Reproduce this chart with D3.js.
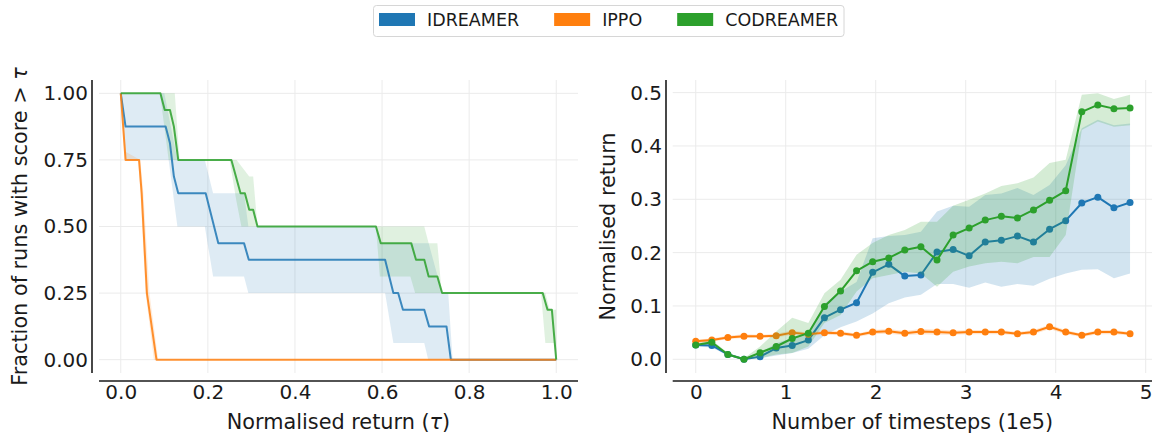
<!DOCTYPE html>
<html><head><meta charset="utf-8">
<script src="https://cdn.jsdelivr.net/npm/d3@7"></script>
<style>
body{margin:0;background:#fff}
svg{display:block}
text{font-family:"DejaVu Sans",sans-serif;fill:#1a1a1a}
</style>
</head><body><svg id="c" width="1156" height="435"></svg>
<script>
// ---------- data ----------
const seriesNames = ["IDREAMER", "IPPO", "CODREAMER"];
const seriesColors = ["#1f77b4", "#ff7f0e", "#2ca02c"];

// Left: performance profiles (tau, fraction of runs with score > tau)
const tauTicks = [0, 0.2, 0.4, 0.6, 0.8, 1.0];
const fracTicks = [0, 0.25, 0.5, 0.75, 1.0];
const idreamerProfile = [[0,1],[0.011,0.875],[0.103,0.875],[0.113,0.8125],[0.122,0.6875],[0.132,0.625],[0.195,0.625],[0.224,0.4375],[0.283,0.4375],[0.294,0.375],[0.607,0.375],[0.626,0.25],[0.637,0.25],[0.648,0.1875],[0.697,0.1875],[0.708,0.125],[0.748,0.125],[0.758,0],[1,0]];
const idreamerUpper = [[0,1],[0.10,1],[0.13,0.75],[0.193,0.75],[0.212,0.625],[0.283,0.625],[0.293,0.5],[0.586,0.5],[0.597,0.4375],[0.707,0.4375],[0.738,0.25],[0.752,0.25],[0.762,0],[1,0]];
const idreamerLower = [[0,1],[0.011,0.75],[0.11,0.75],[0.13,0.5],[0.193,0.5],[0.212,0.3125],[0.283,0.3125],[0.293,0.25],[0.607,0.25],[0.626,0.0625],[0.697,0.0625],[0.706,0],[1,0]];
const ippoProfile = [[0,1],[0.011,0.75],[0.042,0.75],[0.048,0.625],[0.06,0.25],[0.082,0],[1,0]];
const ippoUpper = [[0,1],[0.012,0.78],[0.045,0.75],[0.052,0.625],[0.066,0.25],[0.086,0],[1,0]];
const ippoLower = [[0,1],[0.009,0.75],[0.040,0.75],[0.046,0.6],[0.057,0.25],[0.076,0],[1,0]];
const codreamerProfile = [[0,1],[0.091,1],[0.101,0.9375],[0.113,0.9375],[0.122,0.875],[0.132,0.75],[0.254,0.75],[0.275,0.625],[0.285,0.625],[0.295,0.5625],[0.304,0.5625],[0.314,0.5],[0.586,0.5],[0.597,0.4375],[0.667,0.4375],[0.678,0.375],[0.697,0.375],[0.707,0.3125],[0.727,0.3125],[0.738,0.25],[0.969,0.25],[0.98,0.1875],[0.99,0.1875],[1,0]];
const codreamerUpper = [[0,1],[0.124,1],[0.135,0.75],[0.266,0.75],[0.295,0.6875],[0.304,0.6875],[0.314,0.5],[0.697,0.5],[0.707,0.4375],[0.727,0.4375],[0.737,0.25],[0.975,0.25],[0.985,0.1875],[1,0.1875],[1,0]];
const codreamerLower = [[0,1],[0.09,1],[0.11,0.75],[0.25,0.75],[0.265,0.6],[0.277,0.5],[0.586,0.5],[0.595,0.3125],[0.665,0.3125],[0.676,0.25],[0.965,0.25],[0.975,0.0625],[0.995,0.0625],[1,0]];

// Right: normalised return vs timesteps (1e5)
const stepTicks = [0, 1, 2, 3, 4, 5];
const returnTicks = [0, 0.1, 0.2, 0.3, 0.4, 0.5];
const timesteps = [0,0.179,0.357,0.536,0.715,0.894,1.072,1.251,1.430,1.609,1.787,1.966,2.145,2.323,2.502,2.681,2.860,3.038,3.217,3.396,3.575,3.753,3.932,4.111,4.290,4.468,4.647,4.826];
const idreamerMean  = [0.027,0.026,0.009,0.000,0.005,0.021,0.026,0.036,0.078,0.093,0.106,0.163,0.178,0.156,0.158,0.201,0.206,0.194,0.220,0.223,0.231,0.220,0.244,0.260,0.293,0.304,0.284,0.294];
const idreamerLo    = [0.024,0.022,0.007,0.000,0.002,0.007,0.012,0.020,0.045,0.060,0.071,0.086,0.105,0.116,0.121,0.141,0.141,0.134,0.144,0.136,0.141,0.138,0.151,0.161,0.168,0.169,0.152,0.161];
const idreamerHi    = [0.030,0.030,0.012,0.002,0.012,0.030,0.040,0.050,0.104,0.127,0.145,0.227,0.231,0.233,0.239,0.277,0.288,0.286,0.308,0.311,0.321,0.308,0.327,0.364,0.433,0.449,0.439,0.442];
const ippoMean      = [0.034,0.036,0.041,0.043,0.043,0.044,0.050,0.047,0.050,0.049,0.045,0.051,0.0525,0.049,0.052,0.051,0.050,0.051,0.051,0.051,0.048,0.051,0.061,0.051,0.045,0.051,0.051,0.048];
const ippoLo        = [0.031,0.033,0.038,0.040,0.040,0.041,0.046,0.044,0.046,0.045,0.042,0.047,0.048,0.045,0.047,0.046,0.046,0.047,0.047,0.047,0.045,0.047,0.057,0.047,0.042,0.047,0.047,0.045];
const ippoHi        = [0.037,0.039,0.044,0.047,0.046,0.048,0.054,0.050,0.054,0.053,0.048,0.055,0.057,0.053,0.057,0.056,0.054,0.055,0.055,0.055,0.051,0.055,0.065,0.055,0.048,0.055,0.055,0.051];
const codreamerMean = [0.027,0.032,0.009,0.000,0.0125,0.024,0.039,0.049,0.099,0.128,0.166,0.183,0.190,0.205,0.211,0.186,0.233,0.246,0.261,0.268,0.265,0.280,0.298,0.316,0.464,0.477,0.470,0.471];
const codreamerLo   = [0.025,0.029,0.007,0.000,0.002,0.009,0.012,0.024,0.068,0.083,0.127,0.152,0.158,0.164,0.161,0.136,0.164,0.174,0.180,0.183,0.180,0.192,0.192,0.233,0.430,0.446,0.436,0.439];
const codreamerHi   = [0.030,0.036,0.012,0.002,0.024,0.052,0.078,0.068,0.124,0.149,0.196,0.218,0.233,0.2425,0.258,0.258,0.288,0.299,0.311,0.325,0.330,0.341,0.368,0.374,0.496,0.499,0.488,0.496];

// ---------- drawing ----------
const svg = d3.select("#c");
const FS_TICK = 20, FS_LABEL = 20.8;

function addLabel(sel, parts) {
  parts.forEach(p => {
    const ts = sel.append("tspan").text(p.t);
    if (p.it) ts.attr("font-style", "italic");
  });
}

function panel(opts) {
  const g = svg.append("g");
  const x = d3.scaleLinear().domain(opts.xDomain).range([opts.left, opts.right]);
  const y = d3.scaleLinear().domain(opts.yDomain).range([opts.bottom, opts.top]);
  g.selectAll(".vg").data(opts.xTicks).join("line")
    .attr("x1", d => x(d)).attr("x2", d => x(d)).attr("y1", opts.top).attr("y2", opts.bottom)
    .attr("stroke", "#ebebeb").attr("stroke-width", 1);
  g.selectAll(".hg").data(opts.yTicks).join("line")
    .attr("y1", d => y(d)).attr("y2", d => y(d)).attr("x1", opts.left).attr("x2", opts.right)
    .attr("stroke", "#ebebeb").attr("stroke-width", 1);
  const ya = g.append("g").attr("transform", `translate(${opts.spineX},0)`)
    .call(d3.axisLeft(y).tickValues(opts.yTicks).tickFormat(d3.format(opts.yFmt)).tickSize(0).tickPadding(4));
  ya.select(".domain").remove();
  ya.selectAll("text").attr("font-size", FS_TICK).attr("font-family", "DejaVu Sans").attr("fill", "#1a1a1a");
  const xa = g.append("g").attr("transform", `translate(0,${opts.spineY})`)
    .call(d3.axisBottom(x).tickValues(opts.xTicks).tickFormat(d3.format(opts.xFmt)).tickSize(0).tickPadding(4));
  xa.select(".domain").remove();
  xa.selectAll("text").attr("font-size", FS_TICK).attr("font-family", "DejaVu Sans").attr("fill", "#1a1a1a");
  g.append("line").attr("x1", opts.spineX).attr("x2", opts.spineX).attr("y1", opts.top).attr("y2", opts.bottom)
    .attr("stroke", "#1a1a1a").attr("stroke-width", 1.6);
  g.append("line").attr("x1", opts.left).attr("x2", opts.right).attr("y1", opts.spineY).attr("y2", opts.spineY)
    .attr("stroke", "#1a1a1a").attr("stroke-width", 1.6);
  const xl = g.append("text").attr("x", (opts.left + opts.right) / 2).attr("y", 429).attr("text-anchor", "middle")
    .attr("font-size", FS_LABEL);
  addLabel(xl, opts.xLabel);
  const yl = g.append("text").attr("transform", `translate(${opts.yLabelX},${(opts.top + opts.bottom) / 2}) rotate(-90)`)
    .attr("text-anchor", "middle").attr("font-size", FS_LABEL);
  addLabel(yl, opts.yLabel);
  return {g, x, y};
}

// Left panel
const L = panel({
  left: 99, right: 578, top: 80, bottom: 373, spineX: 92, spineY: 381,
  xDomain: [-0.05, 1.05], yDomain: [-0.05, 1.05],
  xTicks: tauTicks, yTicks: fracTicks, xFmt: ".1f", yFmt: ".2f",
  xLabel: [{t: "Normalised return ("}, {t: "τ", it: true}, {t: ")"}],
  yLabel: [{t: "Fraction of runs with score > "}, {t: "τ", it: true}], yLabelX: 27
});
const profLine = d3.line().x(d => L.x(d[0])).y(d => L.y(d[1]));
const leftSets = [
  [idreamerProfile, idreamerUpper, idreamerLower],
  [ippoProfile, ippoUpper, ippoLower],
  [codreamerProfile, codreamerUpper, codreamerLower]
];
leftSets.forEach((s, i) => {
  const poly = s[1].concat(s[2].slice().reverse());
  L.g.append("path").attr("d", profLine(poly) + "Z").attr("fill", seriesColors[i]).attr("fill-opacity", 0.15).attr("stroke", "none");
});
leftSets.forEach((s, i) => {
  L.g.append("path").attr("d", profLine(s[0])).attr("fill", "none").attr("stroke", seriesColors[i])
    .attr("stroke-width", 2).attr("stroke-opacity", 0.85).attr("stroke-linejoin", "round");
});

// Right panel
const R = panel({
  left: 672.7, right: 1152, top: 80, bottom: 373, spineX: 666, spineY: 381,
  xDomain: [-0.256, 5.07], yDomain: [-0.0257, 0.5237],
  xTicks: stepTicks, yTicks: returnTicks, xFmt: "d", yFmt: ".1f",
  xLabel: [{t: "Number of timesteps (1e5)"}], yLabel: [{t: "Normalised return"}], yLabelX: 615
});
const rightSets = [
  [idreamerMean, idreamerLo, idreamerHi],
  [ippoMean, ippoLo, ippoHi],
  [codreamerMean, codreamerLo, codreamerHi]
];
const band = d3.area().x((d, i) => R.x(timesteps[i])).y0(d => R.y(d[0])).y1(d => R.y(d[1]));
const meanLine = d3.line().x((d, i) => R.x(timesteps[i])).y(d => R.y(d));
rightSets.forEach((s, i) => {
  R.g.append("path").attr("d", band(s[1].map((lo, k) => [lo, s[2][k]])))
    .attr("fill", seriesColors[i]).attr("fill-opacity", 0.2).attr("stroke", "none");
  R.g.append("path").attr("d", meanLine(s[0])).attr("fill", "none").attr("stroke", seriesColors[i])
    .attr("stroke-width", 2).attr("stroke-linejoin", "round");
  R.g.selectAll(null).data(s[0]).join("circle")
    .attr("cx", (d, k) => R.x(timesteps[k])).attr("cy", d => R.y(d)).attr("r", 3.5)
    .attr("fill", seriesColors[i]);
});

// Legend
const lg = svg.append("g");
lg.append("rect").attr("x", 373.5).attr("y", 5.5).attr("width", 470.5).attr("height", 31).attr("rx", 3)
  .attr("fill", "#fff").attr("stroke", "#d6d6d6").attr("stroke-width", 1);
let lx = 379;
seriesNames.forEach((n, i) => {
  lg.append("rect").attr("x", lx).attr("y", 13).attr("width", 36).attr("height", 13).attr("fill", seriesColors[i]);
  const t = lg.append("text").attr("x", lx + 48).attr("y", 26).attr("font-size", 17.5).text(n);
  lx = lx + 48 + t.node().getComputedTextLength() + 35;
});
</script>
</body></html>
